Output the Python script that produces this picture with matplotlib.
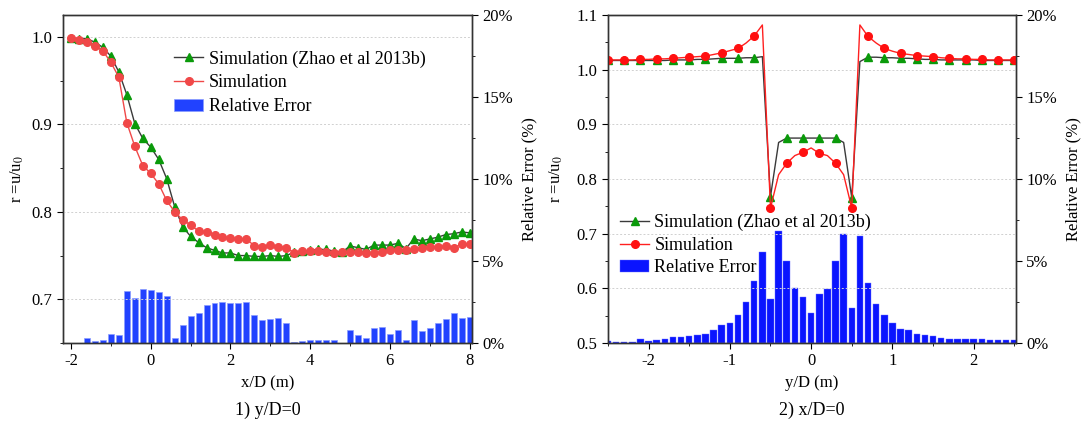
import numpy as np
import matplotlib
matplotlib.use('Agg')
from matplotlib import pyplot as plt
from matplotlib.ticker import MultipleLocator, PercentFormatter

plt.rcParams['font.family'] = 'serif'
plt.rcParams['font.serif'] = ['Liberation Serif', 'DejaVu Serif']
plt.rcParams['mathtext.fontset'] = 'stix'
plt.rcParams['axes.unicode_minus'] = False

# ---- panel 1: y/D=0, x/D from -2 to 8 (step 0.2)
x1 = np.linspace(-2.0, 8.0, 51)
zhao1 = [0.999, 0.998, 0.998, 0.994, 0.988, 0.978, 0.960, 0.934, 0.901, 0.884,
         0.874, 0.860, 0.838, 0.806, 0.783, 0.772, 0.765, 0.759, 0.756, 0.753,
         0.753, 0.750, 0.750, 0.749, 0.749, 0.750, 0.749, 0.750, 0.754, 0.755,
         0.756, 0.757, 0.757, 0.755, 0.754, 0.761, 0.759, 0.757, 0.762, 0.762,
         0.762, 0.764, 0.758, 0.769, 0.767, 0.769, 0.771, 0.774, 0.775, 0.777,
         0.776]
sim1 = [0.999, 0.997, 0.994, 0.990, 0.984, 0.971, 0.954, 0.902, 0.875, 0.853,
        0.844, 0.832, 0.813, 0.800, 0.791, 0.785, 0.778, 0.777, 0.774, 0.771,
        0.770, 0.769, 0.769, 0.761, 0.760, 0.762, 0.760, 0.759, 0.753, 0.755,
        0.755, 0.755, 0.754, 0.753, 0.754, 0.754, 0.754, 0.753, 0.753, 0.754,
        0.756, 0.756, 0.756, 0.757, 0.759, 0.760, 0.760, 0.761, 0.759, 0.763,
        0.763]
err1 = [0, 0, 0.29, 0.14, 0.18, 0.53, 0.51, 3.19, 2.76, 3.27,
        3.23, 3.13, 2.87, 0.33, 1.08, 1.65, 1.85, 2.30, 2.46, 2.52,
        2.42, 2.42, 2.52, 1.71, 1.40, 1.46, 1.52, 1.24, 0.05, 0.12,
        0.20, 0.18, 0.20, 0.18, 0, 0.79, 0.47, 0.31, 0.91, 0.95,
        0.55, 0.81, 0.16, 1.40, 0.71, 0.89, 1.20, 1.44, 1.85, 1.54,
        1.59]

# ---- panel 2: x/D=0, y/D from -2.5 to 2.5 (step 0.1)
x2 = np.linspace(-2.5, 2.5, 51)
zhao2 = [1.017, 1.017, 1.017, 1.017, 1.017, 1.017, 1.017, 1.017, 1.018, 1.018,
         1.018, 1.019, 1.019, 1.020, 1.021, 1.021, 1.021, 1.022, 1.022, 1.024,
         0.768, 0.867, 0.875, 0.875, 0.875, 0.875, 0.875, 0.875, 0.875, 0.867,
         0.766, 1.015, 1.023, 1.023, 1.022, 1.022, 1.021, 1.021, 1.020, 1.019,
         1.019, 1.018, 1.018, 1.018, 1.018, 1.018, 1.017, 1.017, 1.017, 1.017,
         1.017]
sim2 = [1.018, 1.018, 1.018, 1.018, 1.019, 1.019, 1.020, 1.020, 1.021, 1.022,
        1.023, 1.024, 1.025, 1.028, 1.031, 1.035, 1.039, 1.049, 1.062, 1.082,
        0.747, 0.808, 0.829, 0.843, 0.849, 0.857, 0.847, 0.843, 0.829, 0.808,
        0.747, 1.082, 1.061, 1.049, 1.039, 1.034, 1.030, 1.028, 1.026, 1.025,
        1.024, 1.022, 1.021, 1.020, 1.020, 1.019, 1.019, 1.018, 1.018, 1.018,
        1.018]
err2 = [0.12, 0.08, 0.08, 0.07, 0.24, 0.12, 0.20, 0.22, 0.35, 0.37,
        0.43, 0.51, 0.55, 0.81, 1.08, 1.22, 1.69, 2.48, 3.78, 5.55,
        2.66, 6.83, 5.00, 3.35, 2.79, 1.85, 2.99, 3.31, 5.02, 6.67,
        2.13, 6.54, 3.64, 2.38, 1.69, 1.20, 0.87, 0.81, 0.57, 0.49,
        0.43, 0.33, 0.26, 0.26, 0.26, 0.24, 0.26, 0.16, 0.16, 0.20,
        0.20]

labels = ['Simulation (Zhao et al 2013b)', 'Simulation', 'Relative Error']
fontsize = 12
legendsize = 13

fig = plt.figure(figsize=(10.81, 4.32), dpi=100)


def setup_axes(ax, ax2):
    ax.set_zorder(ax2.get_zorder() + 1)
    ax.patch.set_visible(False)
    ax.tick_params(which='both', direction='out', labelsize=fontsize, top=False, right=False)
    ax.tick_params(which='major', length=4)
    ax.tick_params(which='minor', length=2.5)
    ax2.tick_params(which='both', direction='out', labelsize=fontsize)
    ax2.tick_params(which='major', length=4)
    ax2.tick_params(which='minor', length=2.5)
    ax.yaxis.grid(True, which='major', linestyle=(0, (2, 2)), color='#d0d0d0', linewidth=0.7)
    ax2.set_ylim(0, 20)
    ax2.yaxis.set_major_locator(MultipleLocator(5))
    ax2.yaxis.set_minor_locator(MultipleLocator(2.5))
    ax2.yaxis.set_major_formatter(PercentFormatter(decimals=0))
    ax2.set_ylabel('Relative Error (%)', fontsize=fontsize, labelpad=6)
    ax.set_ylabel('r =u/u$_0$', fontsize=fontsize)
    for a in (ax, ax2):
        for s in a.spines.values():
            s.set_color('#333333')
            s.set_linewidth(1.0)


# Panel 1
ax = fig.add_axes([0.0583, 0.206, 0.378, 0.759])
ax2 = ax.twinx()
setup_axes(ax, ax2)
b1 = ax2.bar(x1, err1, width=0.15, color='#2142ff', edgecolor='#8a9cff', linewidth=0.5)
l1, = ax.plot(x1, zhao1, color='#3a3a3a', linewidth=1, marker='^', markersize=5.5,
              markerfacecolor='#0a9a0a', markeredgecolor='#0a9a0a')
l2, = ax.plot(x1, sim1, color='#f04848', linewidth=1, marker='o', markersize=5.5,
              markerfacecolor='#f04848', markeredgecolor='#f04848')
ax.set_xlim(-2.2, 8.05)
ax.set_ylim(0.65, 1.025)
ax.xaxis.set_major_locator(MultipleLocator(2))
ax.xaxis.set_minor_locator(MultipleLocator(1))
ax.yaxis.set_major_locator(MultipleLocator(0.1))
ax.yaxis.set_minor_locator(MultipleLocator(0.05))
ax.set_xlabel('x/D (m)', fontsize=fontsize)
ax.legend([l1, l2, b1], labels, loc='upper left', bbox_to_anchor=(0.255, 0.915),
          frameon=False, fontsize=legendsize, handlelength=1.6, handletextpad=0.3,
          labelspacing=0.38, borderaxespad=0)
fig.text(0.248, 0.04, '1) y/D=0', ha='center', fontsize=13)

# Panel 2
ax = fig.add_axes([0.5624, 0.206, 0.3774, 0.759])
ax2 = ax.twinx()
setup_axes(ax, ax2)
ax.yaxis.labelpad = 8
b2 = ax2.bar(x2, err2, width=0.08, color='#0a14ff', edgecolor='#6a70ff', linewidth=0.3)
l1, = ax.plot(x2, zhao2, color='#3a3a3a', linewidth=1, marker='^', markersize=5.5,
              markevery=2, markerfacecolor='#0a9a0a', markeredgecolor='#0a9a0a')
l2, = ax.plot(x2, sim2, color='#ff2020', linewidth=1, marker='o', markersize=5.5,
              markevery=2, markerfacecolor='#ff1010', markeredgecolor='#ff1010')
ax.set_xlim(-2.5, 2.52)
ax.set_ylim(0.5, 1.1)
ax.xaxis.set_major_locator(MultipleLocator(1))
ax.xaxis.set_minor_locator(MultipleLocator(0.5))
ax.yaxis.set_major_locator(MultipleLocator(0.1))
ax.yaxis.set_minor_locator(MultipleLocator(0.05))
ax.set_xlabel('y/D (m)', fontsize=fontsize)
ax.legend([l1, l2, b2], labels, loc='upper left', bbox_to_anchor=(0.012, 0.415),
          frameon=False, fontsize=legendsize, handlelength=1.6, handletextpad=0.3,
          labelspacing=0.3, borderaxespad=0)
fig.text(0.751, 0.04, '2) x/D=0', ha='center', fontsize=13)

plt.savefig('out.png', dpi=100)
